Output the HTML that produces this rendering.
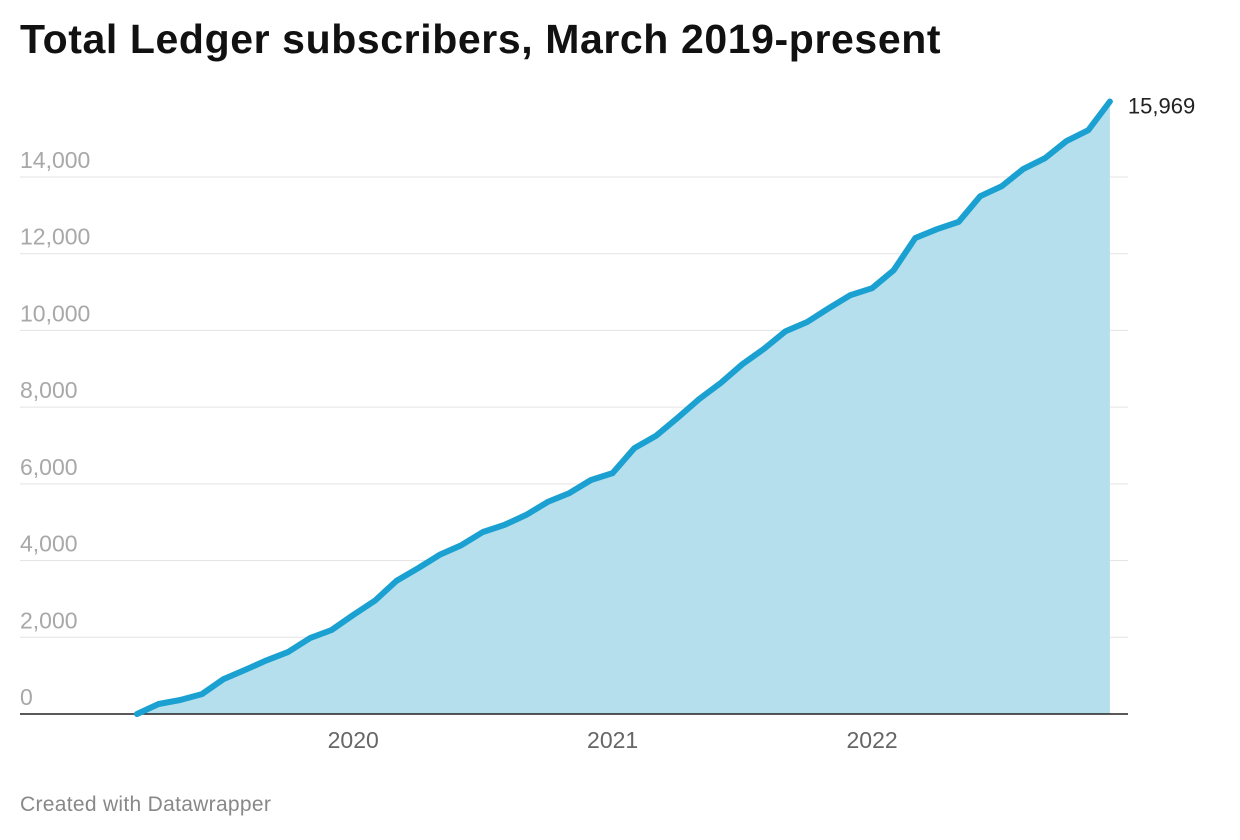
<!DOCTYPE html>
<html><head><meta charset="utf-8">
<style>
body{margin:0;background:#fff;font-family:"Liberation Sans",sans-serif;}
#wrap{position:relative;width:1240px;height:840px;overflow:hidden;}
h1{position:absolute;left:20px;top:16px;margin:0;font-size:41px;font-weight:bold;color:#111;letter-spacing:0.6px;}
#foot{position:absolute;left:20px;top:793px;font-size:21px;color:#888;letter-spacing:0.3px;}
</style></head>
<body>
<div id="wrap">
<h1>Total Ledger subscribers, March 2019-present</h1>
<svg id="chart" width="1240" height="840" style="position:absolute;left:0;top:0"></svg>
<div id="foot">Created with Datawrapper</div>
</div>
<script>
const values=[0,260,365,520,910,1150,1400,1620,1980,2190,2580,2950,3470,3800,4150,4400,4745,4930,5190,5530,5760,6100,6280,6930,7250,7720,8210,8630,9120,9520,9980,10220,10580,10920,11100,11570,12410,12640,12830,13500,13760,14210,14490,14940,15220,15969];
const yTicks=[0,2000,4000,6000,8000,10000,12000,14000];
const xTickYears=[2020,2021,2022];
const startMonth=2; // March 2019 (0-based month)
const startYear=2019;
const NS="http://www.w3.org/2000/svg";
const svg=document.getElementById('chart');
function y(v){return 714-v*(714-177)/14000;}
function xm(i){return 137+i*21.62;} // months since March 2019
function mk(t,a){const e=document.createElementNS(NS,t);for(const k in a)e.setAttribute(k,a[k]);svg.appendChild(e);return e;}
yTicks.forEach(t=>{
  if(t>0){const l=mk('line',{x1:20,x2:1128,y1:y(t),y2:y(t),stroke:'#e3e3e3','stroke-width':1});
  
  }
  const tx=mk('text',{x:20,y:y(t)-9,fill:'#a8a8a8','font-size':23,'font-family':'Liberation Sans, sans-serif'});
  tx.textContent=t.toLocaleString('en-US');
  
  
});
let pts=values.map((v,i)=>xm(i).toFixed(1)+','+y(v).toFixed(1));
const area=mk('polygon',{points:xm(0)+','+y(0)+' '+pts.join(' ')+' '+xm(values.length-1)+','+y(0),fill:'#b5dfec'});


const base=mk('line',{x1:20,x2:1128,y1:714,y2:714,stroke:'#222','stroke-width':1.5});


const line=mk('polyline',{points:pts.join(' '),fill:'none',stroke:'#1aa1d1','stroke-width':6,'stroke-linejoin':'round','stroke-linecap':'round'});


xTickYears.forEach(yr=>{
  const i=(yr-startYear)*12-startMonth;
  const t=mk('text',{x:xm(i),y:748,fill:'#666','font-size':23,'text-anchor':'middle','font-family':'Liberation Sans, sans-serif'});
  t.textContent=yr;
  
  
});
const last=values[values.length-1];
const lbl=mk('text',{x:xm(values.length-1)+18,y:y(last)+12,fill:'#222','font-size':22,'font-family':'Liberation Sans, sans-serif'});
lbl.textContent=last.toLocaleString('en-US');


</script>
</body></html>
